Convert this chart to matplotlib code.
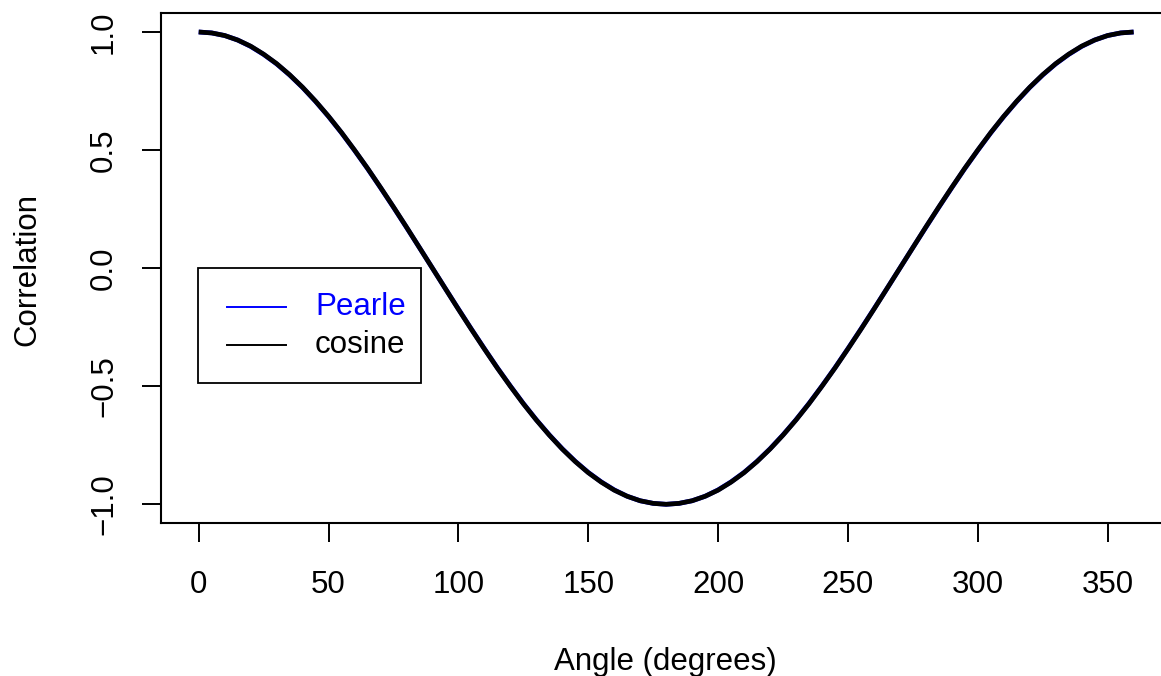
import matplotlib
matplotlib.use("Agg")
import matplotlib.pyplot as plt
from matplotlib.lines import Line2D
from matplotlib.patches import Rectangle

angles = list(range(0, 365, 5))
cosine = [1.000, 0.996, 0.985, 0.966, 0.940, 0.906, 0.866, 0.819, 0.766, 0.707,
          0.643, 0.574, 0.500, 0.423, 0.342, 0.259, 0.174, 0.087, 0.000, -0.087,
          -0.174, -0.259, -0.342, -0.423, -0.500, -0.574, -0.643, -0.707, -0.766,
          -0.819, -0.866, -0.906, -0.940, -0.966, -0.985, -0.996, -1.000,
          -0.996, -0.985, -0.966, -0.940, -0.906, -0.866, -0.819, -0.766, -0.707,
          -0.643, -0.574, -0.500, -0.423, -0.342, -0.259, -0.174, -0.087, 0.000,
          0.087, 0.174, 0.259, 0.342, 0.423, 0.500, 0.574, 0.643, 0.707, 0.766,
          0.819, 0.866, 0.906, 0.940, 0.966, 0.985, 0.996, 1.000]
pearle = [1.000, 0.996, 0.985, 0.966, 0.939, 0.905, 0.865, 0.818, 0.765, 0.706,
          0.642, 0.573, 0.499, 0.422, 0.341, 0.258, 0.173, 0.087, 0.000, -0.087,
          -0.173, -0.258, -0.341, -0.422, -0.499, -0.573, -0.642, -0.706, -0.765,
          -0.818, -0.865, -0.905, -0.939, -0.966, -0.985, -0.996, -1.000,
          -0.996, -0.985, -0.966, -0.939, -0.905, -0.865, -0.818, -0.765, -0.706,
          -0.642, -0.573, -0.499, -0.422, -0.341, -0.258, -0.173, -0.087, 0.000,
          0.087, 0.173, 0.258, 0.341, 0.422, 0.499, 0.573, 0.642, 0.706, 0.765,
          0.818, 0.865, 0.905, 0.939, 0.966, 0.985, 0.996, 1.000]
xticks = [0, 50, 100, 150, 200, 250, 300, 350]
yticks = [-1.0, -0.5, 0.0, 0.5, 1.0]
legend_labels = ["Pearle", "cosine"]
legend_colors = ["blue", "black"]

plt.rcParams['font.family'] = ['Liberation Sans', 'DejaVu Sans']
W, H = 1161, 676
fig = plt.figure(figsize=(W / 100, H / 100), dpi=100)
ax = fig.add_axes([161.3 / W, 1 - 523.2 / H, (1171 - 161.3) / W, (523.2 - 13.1) / H])
ax.set_xlim(-14.4, 374.4)
ax.set_ylim(-1.08, 1.08)

ax.plot(angles, pearle, color="blue", lw=3.4, solid_capstyle="butt", zorder=2)
ax.plot(angles, cosine, color="black", lw=3.4, solid_capstyle="butt", zorder=3)

ax.set_xticks(xticks)
ax.set_xticklabels([str(v) for v in xticks])
ax.set_yticks(yticks)
ax.set_yticklabels([f"{v:.1f}".replace("-", "\u2212") for v in yticks], rotation=90, va="center")
ax.tick_params(axis="both", direction="out", length=13.5, width=1.4, labelsize=22.5, colors="black")
ax.tick_params(axis="x", pad=20)
ax.tick_params(axis="y", pad=17)
for s in ax.spines.values():
    s.set_linewidth(1.5)

fig.text(665 / W, 1 - 662 / H, "Angle (degrees)", fontsize=22.5, ha="center", va="center")
fig.text(27.5 / W, 1 - 269 / H, "Correlation", fontsize=22.5, ha="center", va="center", rotation=90)

# legend drawn in figure pixel coordinates
def fx(x):
    return x / W
def fy(y):
    return 1 - y / H

fig.add_artist(Rectangle((fx(198.3), fy(382.7)), fx(421) - fx(198.3), fy(268.3) - fy(382.7),
                         transform=fig.transFigure, fill=True, facecolor="white",
                         edgecolor="black", lw=1.3, zorder=5))
for i, (lab, col) in enumerate(zip(legend_labels, legend_colors)):
    yy = 306.7 + i * 38.3
    fig.add_artist(Line2D([fx(226.7), fx(285.7)], [fy(yy), fy(yy)], color=col, lw=1.4,
                          transform=fig.transFigure, zorder=6))
    fig.text(fx(315), fy(yy), lab, color=col, fontsize=22.5, ha="left", va="center", zorder=7)

fig.savefig("out.png", dpi=100)
